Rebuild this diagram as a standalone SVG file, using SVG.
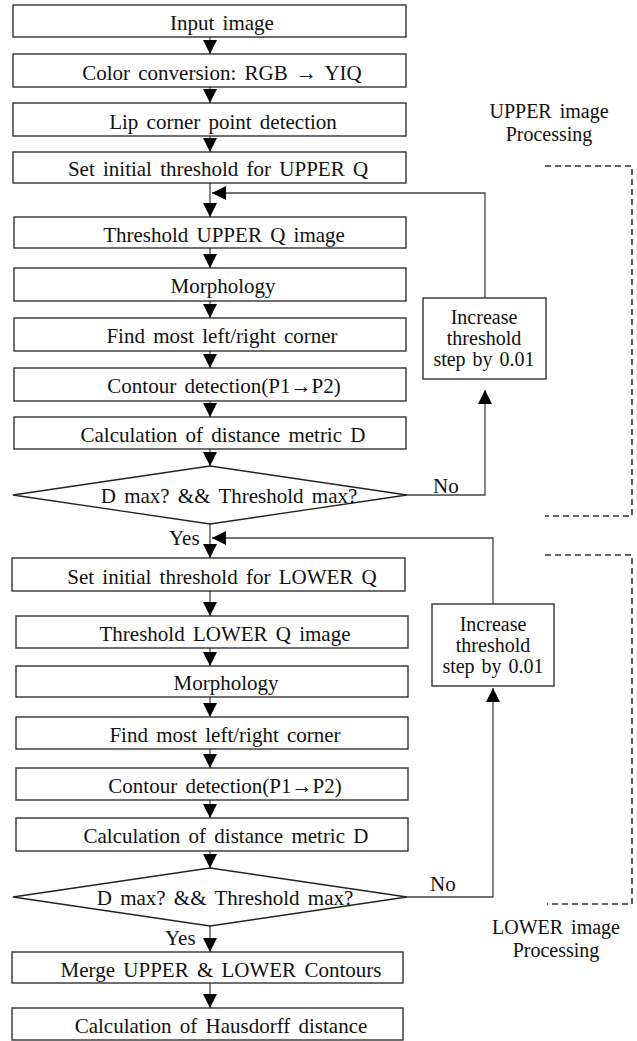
<svg xmlns="http://www.w3.org/2000/svg" width="637" height="1041" viewBox="0 0 637 1041">
<style>
.box{fill:#fff;stroke:#222;stroke-width:1.3}
.t{font-family:'Liberation Serif','DejaVu Serif',serif;font-size:21px;fill:#111;text-anchor:middle;word-spacing:3px}
.ti{font-family:'Liberation Serif','DejaVu Serif',serif;font-size:20px;fill:#111;text-anchor:middle;word-spacing:2px}
.tl{font-family:'Liberation Serif','DejaVu Serif',serif;font-size:20px;fill:#111;text-anchor:middle;word-spacing:3px}
.ts{font-family:'Liberation Serif','DejaVu Serif',serif;font-size:21px;fill:#111;word-spacing:2px}
.c{fill:none;stroke:#444;stroke-width:1.3}
.d{fill:none;stroke:#333;stroke-width:1.6;stroke-dasharray:6,4}
</style>
<defs>
<marker id="ah" markerUnits="userSpaceOnUse" markerWidth="14" markerHeight="14" refX="14" refY="7" orient="auto" viewBox="0 0 14 14">
<path d="M0,0 L14,7 L0,14 Z" fill="#000"/>
</marker>
</defs>
<g id="connectors">
<line class="c" x1="210" y1="37" x2="210" y2="54" marker-end="url(#ah)"/>
<line class="c" x1="210" y1="87" x2="210" y2="103" marker-end="url(#ah)"/>
<line class="c" x1="210" y1="136" x2="210" y2="152" marker-end="url(#ah)"/>
<line class="c" x1="210" y1="183" x2="210" y2="217" marker-end="url(#ah)"/>
<line class="c" x1="210" y1="248" x2="210" y2="268" marker-end="url(#ah)"/>
<line class="c" x1="210" y1="301" x2="210" y2="318" marker-end="url(#ah)"/>
<line class="c" x1="210" y1="351" x2="210" y2="368" marker-end="url(#ah)"/>
<line class="c" x1="210" y1="401" x2="210" y2="417" marker-end="url(#ah)"/>
<line class="c" x1="210" y1="449" x2="210" y2="466" marker-end="url(#ah)"/>
<line class="c" x1="210" y1="524" x2="210" y2="558" marker-end="url(#ah)"/>
<line class="c" x1="210" y1="591" x2="210" y2="616" marker-end="url(#ah)"/>
<line class="c" x1="210" y1="648" x2="210" y2="666" marker-end="url(#ah)"/>
<line class="c" x1="210" y1="697" x2="210" y2="717" marker-end="url(#ah)"/>
<line class="c" x1="210" y1="749" x2="210" y2="768" marker-end="url(#ah)"/>
<line class="c" x1="210" y1="800" x2="210" y2="818" marker-end="url(#ah)"/>
<line class="c" x1="210" y1="851" x2="210" y2="868" marker-end="url(#ah)"/>
<line class="c" x1="210" y1="926" x2="210" y2="952" marker-end="url(#ah)"/>
<line class="c" x1="210" y1="983" x2="210" y2="1008" marker-end="url(#ah)"/>
<polyline class="c" points="407,495 485,495 485,390" marker-end="url(#ah)"/>
<polyline class="c" points="485,298 485,193 212,193" marker-end="url(#ah)"/>
<polyline class="c" points="407,897 493,897 493,688" marker-end="url(#ah)"/>
<polyline class="c" points="493,604 493,538 212,538" marker-end="url(#ah)"/>
<text class="ts" x="433" y="493">No</text>
<text class="ts" x="430" y="891">No</text>
<text class="ts" x="169" y="545">Yes</text>
<text class="ts" x="165" y="945">Yes</text>
</g>
<g id="n1"><rect class="box" x="13" y="5" width="393" height="32"/><text class="t" x="222" y="30">Input image</text></g>
<g id="n2"><rect class="box" x="13" y="54" width="393" height="33"/><text class="t" x="222" y="80">Color conversion: RGB → YIQ</text></g>
<g id="n3"><rect class="box" x="13" y="103" width="393" height="33"/><text class="t" x="223" y="129">Lip corner point detection</text></g>
<g id="n4"><rect class="box" x="13" y="152" width="393" height="31"/><text class="t" x="218" y="176">Set initial threshold for UPPER Q</text></g>
<g id="n5"><rect class="box" x="14" y="217" width="392" height="31"/><text class="t" x="224" y="242">Threshold UPPER Q image</text></g>
<g id="n6"><rect class="box" x="14" y="268" width="392" height="33"/><text class="t" x="223" y="293">Morphology</text></g>
<g id="n7"><rect class="box" x="14" y="318" width="392" height="33"/><text class="t" x="222" y="343">Find most left/right corner</text></g>
<g id="n8"><rect class="box" x="14" y="368" width="392" height="33"/><text class="t" x="224" y="393">Contour detection(P1→P2)</text></g>
<g id="n9"><rect class="box" x="14" y="417" width="392" height="32"/><text class="t" x="223" y="442">Calculation of distance metric D</text></g>
<g id="n10"><polygon class="box" points="13,495 210,466 407,495 210,524"/><text class="t" x="229" y="503">D max? &amp;&amp; Threshold max?</text></g>
<g id="n11"><rect class="box" x="423" y="298" width="123" height="81"/><text class="ti" x="484" y="324">Increase</text><text class="ti" x="484" y="345">threshold</text><text class="ti" x="484" y="366">step by 0.01</text></g>
<g id="n12"><rect class="box" x="12" y="558" width="393" height="33"/><text class="t" x="222" y="584">Set initial threshold for LOWER Q</text></g>
<g id="n13"><rect class="box" x="16" y="616" width="392" height="32"/><text class="t" x="225" y="641">Threshold LOWER Q image</text></g>
<g id="n14"><rect class="box" x="16" y="666" width="392" height="31"/><text class="t" x="226" y="690">Morphology</text></g>
<g id="n15"><rect class="box" x="16" y="717" width="392" height="32"/><text class="t" x="225" y="742">Find most left/right corner</text></g>
<g id="n16"><rect class="box" x="16" y="768" width="392" height="32"/><text class="t" x="225" y="793">Contour detection(P1→P2)</text></g>
<g id="n17"><rect class="box" x="16" y="818" width="392" height="33"/><text class="t" x="226" y="843">Calculation of distance metric D</text></g>
<g id="n18"><polygon class="box" points="13,897 210,868 407,897 210,926"/><text class="t" x="225" y="905">D max? &amp;&amp; Threshold max?</text></g>
<g id="n19"><rect class="box" x="432" y="604" width="122" height="82"/><text class="ti" x="493" y="631">Increase</text><text class="ti" x="493" y="652">threshold</text><text class="ti" x="493" y="673">step by 0.01</text></g>
<g id="n20"><rect class="box" x="12" y="952" width="391" height="31"/><text class="t" x="221" y="977">Merge UPPER &amp; LOWER Contours</text></g>
<g id="n21"><rect class="box" x="12" y="1008" width="391" height="32"/><text class="t" x="221" y="1033">Calculation of Hausdorff distance</text></g>
<g id="upper-group"><polyline class="d" points="545,166 632,166 632,516 545,516"/><text class="tl" x="549" y="118">UPPER image</text><text class="tl" x="549" y="141">Processing</text></g>
<g id="lower-group"><polyline class="d" points="545,555 632,555 632,904 547,904"/><text class="tl" x="556" y="934">LOWER image</text><text class="tl" x="556" y="957">Processing</text></g>
</svg>
